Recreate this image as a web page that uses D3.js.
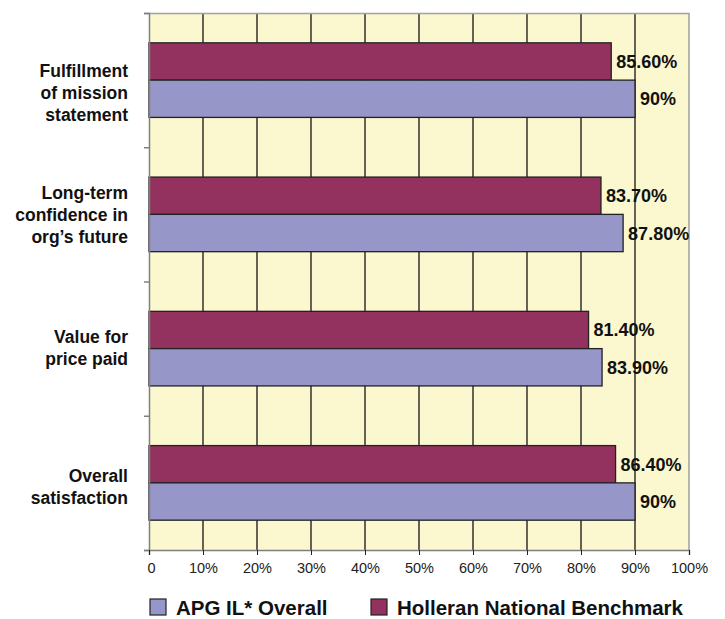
<!DOCTYPE html>
<html>
<head>
<meta charset="utf-8">
<script src="https://cdn.jsdelivr.net/npm/d3@7"></script>
<style>
  body { margin: 0; background: #fff; }
  svg { font-family: "Liberation Sans", Arial, sans-serif; }
</style>
</head>
<body>
<svg id="chart" width="725" height="619"></svg>
<script>
// categories from top to bottom
const categories = [
  ["Fulfillment", "of mission", "statement"],
  ["Long-term", "confidence in", "org\u2019s future"],
  ["Value for", "price paid"],
  ["Overall", "satisfaction"]
];
const seriesNames = ["Holleran National Benchmark", "APG IL* Overall"];
const benchmark = [85.6, 83.7, 81.4, 86.4];
const apg = [90, 87.8, 83.9, 90];
const benchmarkLabels = ["85.60%", "83.70%", "81.40%", "86.40%"];
const apgLabels = ["90%", "87.80%", "83.90%", "90%"];
const xTicks = [0, 10, 20, 30, 40, 50, 60, 70, 80, 90, 100];

const colours = { "Holleran National Benchmark": "#93325e", "APG IL* Overall": "#9696c8" };
// labels in the original sit a little off the band centre
const labelShift = [13, 0, -1, 4];

const svg = d3.select("#chart");
const margin = { top: 13, left: 149, right: 36, bottom: 69 };
const width = 725 - margin.left - margin.right;
const height = 619 - margin.top - margin.bottom;

const g = svg.append("g").attr("transform", `translate(${margin.left},${margin.top})`);

const x = d3.scaleLinear().domain([0, 100]).range([0, width]);
const y = d3.scaleBand().domain(d3.range(categories.length)).range([0, height]);
const inner = d3.scaleBand().domain(seriesNames).range([0, y.bandwidth()]).paddingOuter(0.8).paddingInner(0);

// plot background
g.append("rect")
  .attr("width", width).attr("height", height)
  .attr("fill", "#fbf7cf");

// vertical grid
g.selectAll(".grid")
  .data(xTicks.slice(1, -1))
  .enter().append("line")
  .attr("class", "grid")
  .attr("x1", (d) => x(d)).attr("x2", (d) => x(d))
  .attr("y1", 0).attr("y2", height)
  .attr("stroke", "#000").attr("stroke-width", 1.2);

// plot border top/right
g.append("path")
  .attr("d", `M0,0.5H${width}V${height}`)
  .attr("fill", "none").attr("stroke", "#a0a0a0").attr("stroke-width", 1.5);

const rows = categories.map((c, i) => ({ i, values: [
  { key: seriesNames[0], v: benchmark[i], label: benchmarkLabels[i] },
  { key: seriesNames[1], v: apg[i], label: apgLabels[i] }
] }));

const group = g.selectAll(".cat")
  .data(rows)
  .enter().append("g")
  .attr("class", "cat")
  .attr("transform", (d) => `translate(0,${y(d.i)})`);

group.selectAll("rect")
  .data((d) => d.values)
  .enter().append("rect")
  .attr("x", 0)
  .attr("y", (d) => inner(d.key))
  .attr("width", (d) => x(d.v))
  .attr("height", inner.bandwidth())
  .attr("fill", (d) => colours[d.key])
  .attr("stroke", "#222")
  .attr("stroke-width", 1.3);

group.selectAll(".val")
  .data((d) => d.values)
  .enter().append("text")
  .attr("class", "val")
  .attr("x", (d) => x(d.v) + 5)
  .attr("y", (d) => inner(d.key) + inner.bandwidth() / 2)
  .attr("dy", "0.36em")
  .attr("font-size", 18)
  .attr("font-weight", "bold")
  .attr("fill", "#111")
  .text((d) => d.label);

// category labels
const lineH = 22;
group.append("text")
  .attr("text-anchor", "end")
  .attr("font-size", 17.5)
  .attr("font-weight", "bold")
  .attr("fill", "#111")
  .each(function (d) {
    const lines = categories[d.i];
    const t = d3.select(this);
    const y0 = y.bandwidth() / 2 + labelShift[d.i] - ((lines.length - 1) * lineH) / 2;
    lines.forEach((ln, k) => {
      t.append("tspan")
        .attr("x", -21)
        .attr("y", y0 + k * lineH)
        .attr("dy", "0.36em")
        .text(ln);
    });
  });

// y axis
const yAxis = g.append("g")
  .call(d3.axisLeft(d3.scaleLinear().domain([0, categories.length]).range([0, height]))
    .ticks(categories.length).tickSize(5).tickFormat(""));
yAxis.select(".domain").attr("stroke", "#808080").attr("stroke-width", 1.5);
yAxis.selectAll(".tick line").attr("stroke", "#808080").attr("stroke-width", 1.5);

// x axis
const xAxis = g.append("g")
  .attr("transform", `translate(0,${height})`)
  .call(d3.axisBottom(x).tickValues(xTicks).tickSize(5)
    .tickFormat((d) => (d === 0 ? "0" : d + "%")));
xAxis.select(".domain").attr("stroke", "#808080").attr("stroke-width", 1.5);
xAxis.selectAll(".tick line").attr("stroke", "#222");
xAxis.selectAll(".tick text")
  .attr("font-family", "'Liberation Sans', Arial, sans-serif")
  .attr("font-size", 14.5)
  .attr("fill", "#222")
  .attr("dy", "1.0em");
xAxis.select(".tick text").attr("text-anchor", "start").attr("dx", "-2");

// legend
const legendItems = [
  { key: seriesNames[1], x: 150 },
  { key: seriesNames[0], x: 371 }
];
const legend = svg.selectAll(".legend")
  .data(legendItems)
  .enter().append("g")
  .attr("class", "legend")
  .attr("transform", (d) => `translate(${d.x},599)`);
legend.append("rect")
  .attr("width", 16).attr("height", 16)
  .attr("fill", (d) => colours[d.key])
  .attr("stroke", "#222").attr("stroke-width", 1.2);
legend.append("text")
  .attr("x", 26).attr("y", 8.5).attr("dy", "0.36em")
  .attr("font-size", 20.5).attr("font-weight", "bold").attr("fill", "#111")
  .text((d) => d.key);
</script>
</body>
</html>
